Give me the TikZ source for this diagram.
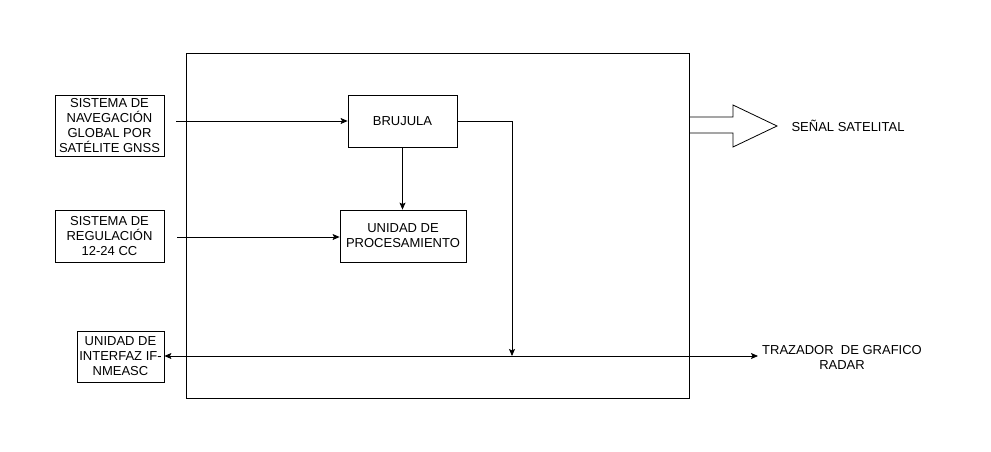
\documentclass[tikz,border=0pt]{standalone}
\usepackage{fontspec}
\setmainfont{Liberation Sans}
\usetikzlibrary{arrows.meta}
\begin{document}
\begin{tikzpicture}[x=1pt,y=-1pt,
  every node/.style={font=\fontsize{13}{15}\selectfont, align=center, inner sep=0pt},
  blk/.style={draw, line width=0.8pt},
  conn/.style={line width=0.8pt, -{Stealth[length=7pt,width=6pt,inset=1.5pt]}},
  dconn/.style={line width=0.8pt, {Stealth[length=7pt,width=6pt,inset=1.5pt]}-{Stealth[length=7pt,width=6pt,inset=1.5pt]}}]
\useasboundingbox (0,0) rectangle (991,452);
% main enclosure
\node[blk, minimum width=503pt, minimum height=345pt] (main) at (437.5,225.5) {};
% external boxes
\node[blk, minimum width=109pt, minimum height=61pt] (gnss) at (109.5,125.5) {SISTEMA DE\\NAVEGACIÓN\\GLOBAL POR\\SATÉLITE GNSS};
\node[blk, minimum width=109pt, minimum height=52pt] (reg) at (109.5,236) {SISTEMA DE\\REGULACIÓN\\12-24 CC};
\node[blk, minimum width=87pt, minimum height=51pt] (ifz) at (120.5,356.5) {UNIDAD DE\\INTERFAZ IF-\\NMEASC};
% internal boxes
\node[blk, minimum width=109pt, minimum height=52pt] (bru) at (402.5,121) {BRUJULA};
\node[blk, minimum width=126pt, minimum height=52pt] (proc) at (403,236) {UNIDAD DE\\PROCESAMIENTO};
% labels
\node (sat) at (848,126) {SEÑAL SATELITAL};
\node (traz) at (842,357) {TRAZADOR\ \ DE GRAFICO\\RADAR};
% coordinates
\coordinate (gnssout) at (176,121);
\coordinate (regout) at (177,237);
\coordinate (corner) at (512,121);
\coordinate (junc) at (512,356);
\coordinate (trazin) at (758,356);
% connectors
\draw[conn] (gnssout) -- (bru.west);
\draw[conn] (regout) -- (regout -| proc.west);
\draw[conn] (bru.south) -- (bru.south |- proc.north);
\draw[conn] (bru.east) -- (corner) -- (junc);
\draw[dconn] (ifz.east |- junc) -- (trazin);
% block arrow
\draw[line width=0.8pt] (689,117) -- (733,117) -- (733,105) -- (777,126) -- (733,147) -- (733,133) -- (689,133);
\end{tikzpicture}
\end{document}
